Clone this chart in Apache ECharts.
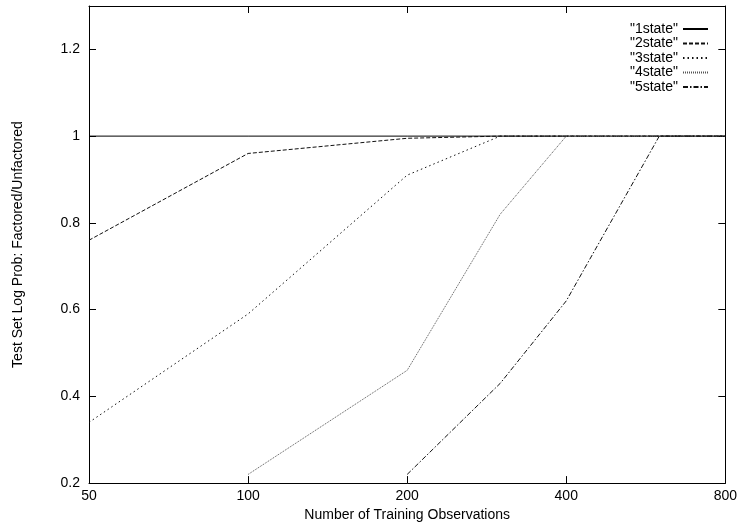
<!DOCTYPE html>
<html>
<head>
<meta charset="utf-8">
<script src="https://cdn.jsdelivr.net/npm/echarts@6/dist/echarts.min.js"></script>
<style>
  html, body { margin: 0; padding: 0; background: #fff; }
  #chart { width: 740px; height: 527px; }
</style>
</head>
<body>
<div id="chart"></div>
<script>
// number of training observations (x) and ratio per model
var observations = [50, 100, 200, 300, 400, 600, 800];
var xTicks = [50, 100, 200, 400, 800];
var state1 = [1, 1, 1, 1, 1, 1, 1];
var state2 = [0.76, 0.96, 0.995, 1, 1, 1, 1];
var state3 = [0.34, 0.59, 0.91, 1, 1, 1, 1];
var state4 = [null, 0.22, 0.46, 0.82, 1, 1, 1];
var state5 = [null, null, 0.22, 0.43, 0.62, 1, 1];
var seriesNames = ['"1state"', '"2state"', '"3state"', '"4state"', '"5state"'];

var chart = echarts.init(document.getElementById('chart'));
var font = 'Liberation Sans, Arial, sans-serif';

function pairs(ys) {
    var out = [];
    for (var i = 0; i < observations.length; i++) {
        if (ys[i] !== null) out.push([observations[i], ys[i]]);
    }
    return out;
}

var lineStyles = [
    { color: '#000', width: 1, type: 'solid' },
    { color: '#111', width: 1, type: [4, 2] },
    { color: '#111', width: 1, type: [1.5, 3] },
    { color: '#555', width: 1, type: [1, 1] },
    { color: '#111', width: 1, type: [5, 2, 1.5, 2] }
];
var allData = [state1, state2, state3, state4, state5];

var series = [];
for (var s = 0; s < allData.length; s++) {
    series.push({
        name: seriesNames[s],
        type: 'line',
        symbol: 'none',
        silent: true,
        animation: false,
        lineStyle: lineStyles[s],
        data: pairs(allData[s])
    });
}

var xBase = {
    type: 'log',
    logBase: 2,
    min: 50,
    max: 800,
    axisLine: { lineStyle: { color: '#000', width: 1 } },
    axisTick: { inside: true, length: 7, lineStyle: { color: '#000' }, customValues: xTicks },
    splitLine: { show: false },
    minorTick: { show: false }
};
var yBase = {
    type: 'value',
    min: 0.2,
    max: 1.3,
    interval: 0.2,
    axisLine: { show: true, lineStyle: { color: '#000', width: 1 } },
    axisTick: { show: true, inside: true, length: 7, lineStyle: { color: '#000' } },
    splitLine: { show: false }
};

var option = {
    backgroundColor: '#fff',
    animation: false,
    grid: { left: 89, right: 12, top: 6, bottom: 37, containLabel: false },
    legend: {
        data: seriesNames,
        orient: 'vertical',
        right: 26,
        top: 17,
        align: 'right',
        itemWidth: 25,
        itemHeight: 10,
        itemGap: 0.5,
        itemStyle: { opacity: 0 },
        textStyle: { fontFamily: font, fontSize: 14, color: '#000', lineHeight: 14 },
        selectedMode: false
    },
    xAxis: [
        Object.assign({}, xBase, {
            position: 'bottom',
            name: 'Number of Training Observations',
            nameLocation: 'middle',
            nameGap: 20,
            nameTextStyle: { fontFamily: font, fontSize: 14, color: '#000' },
            axisLabel: {
                fontFamily: font, fontSize: 14, color: '#000', margin: 6,
                customValues: xTicks,
                formatter: function (v) { return String(Math.round(v)); }
            }
        }),
        Object.assign({}, xBase, {
            position: 'top',
            axisLabel: { show: false }
        })
    ],
    yAxis: [
        Object.assign({}, yBase, {
            position: 'left',
            name: 'Test Set Log Prob: Factored/Unfactored',
            nameLocation: 'middle',
            nameGap: 64,
            nameTextStyle: { fontFamily: font, fontSize: 14, color: '#000' },
            axisLabel: {
                fontFamily: font, fontSize: 14, color: '#000', margin: 9,
                showMaxLabel: false,
                formatter: function (v) { return String(Math.round(v * 10) / 10); }
            }
        }),
        Object.assign({}, yBase, {
            position: 'right',
            axisLabel: { show: false }
        })
    ],
    series: series
};

chart.setOption(option);
</script>
</body>
</html>
